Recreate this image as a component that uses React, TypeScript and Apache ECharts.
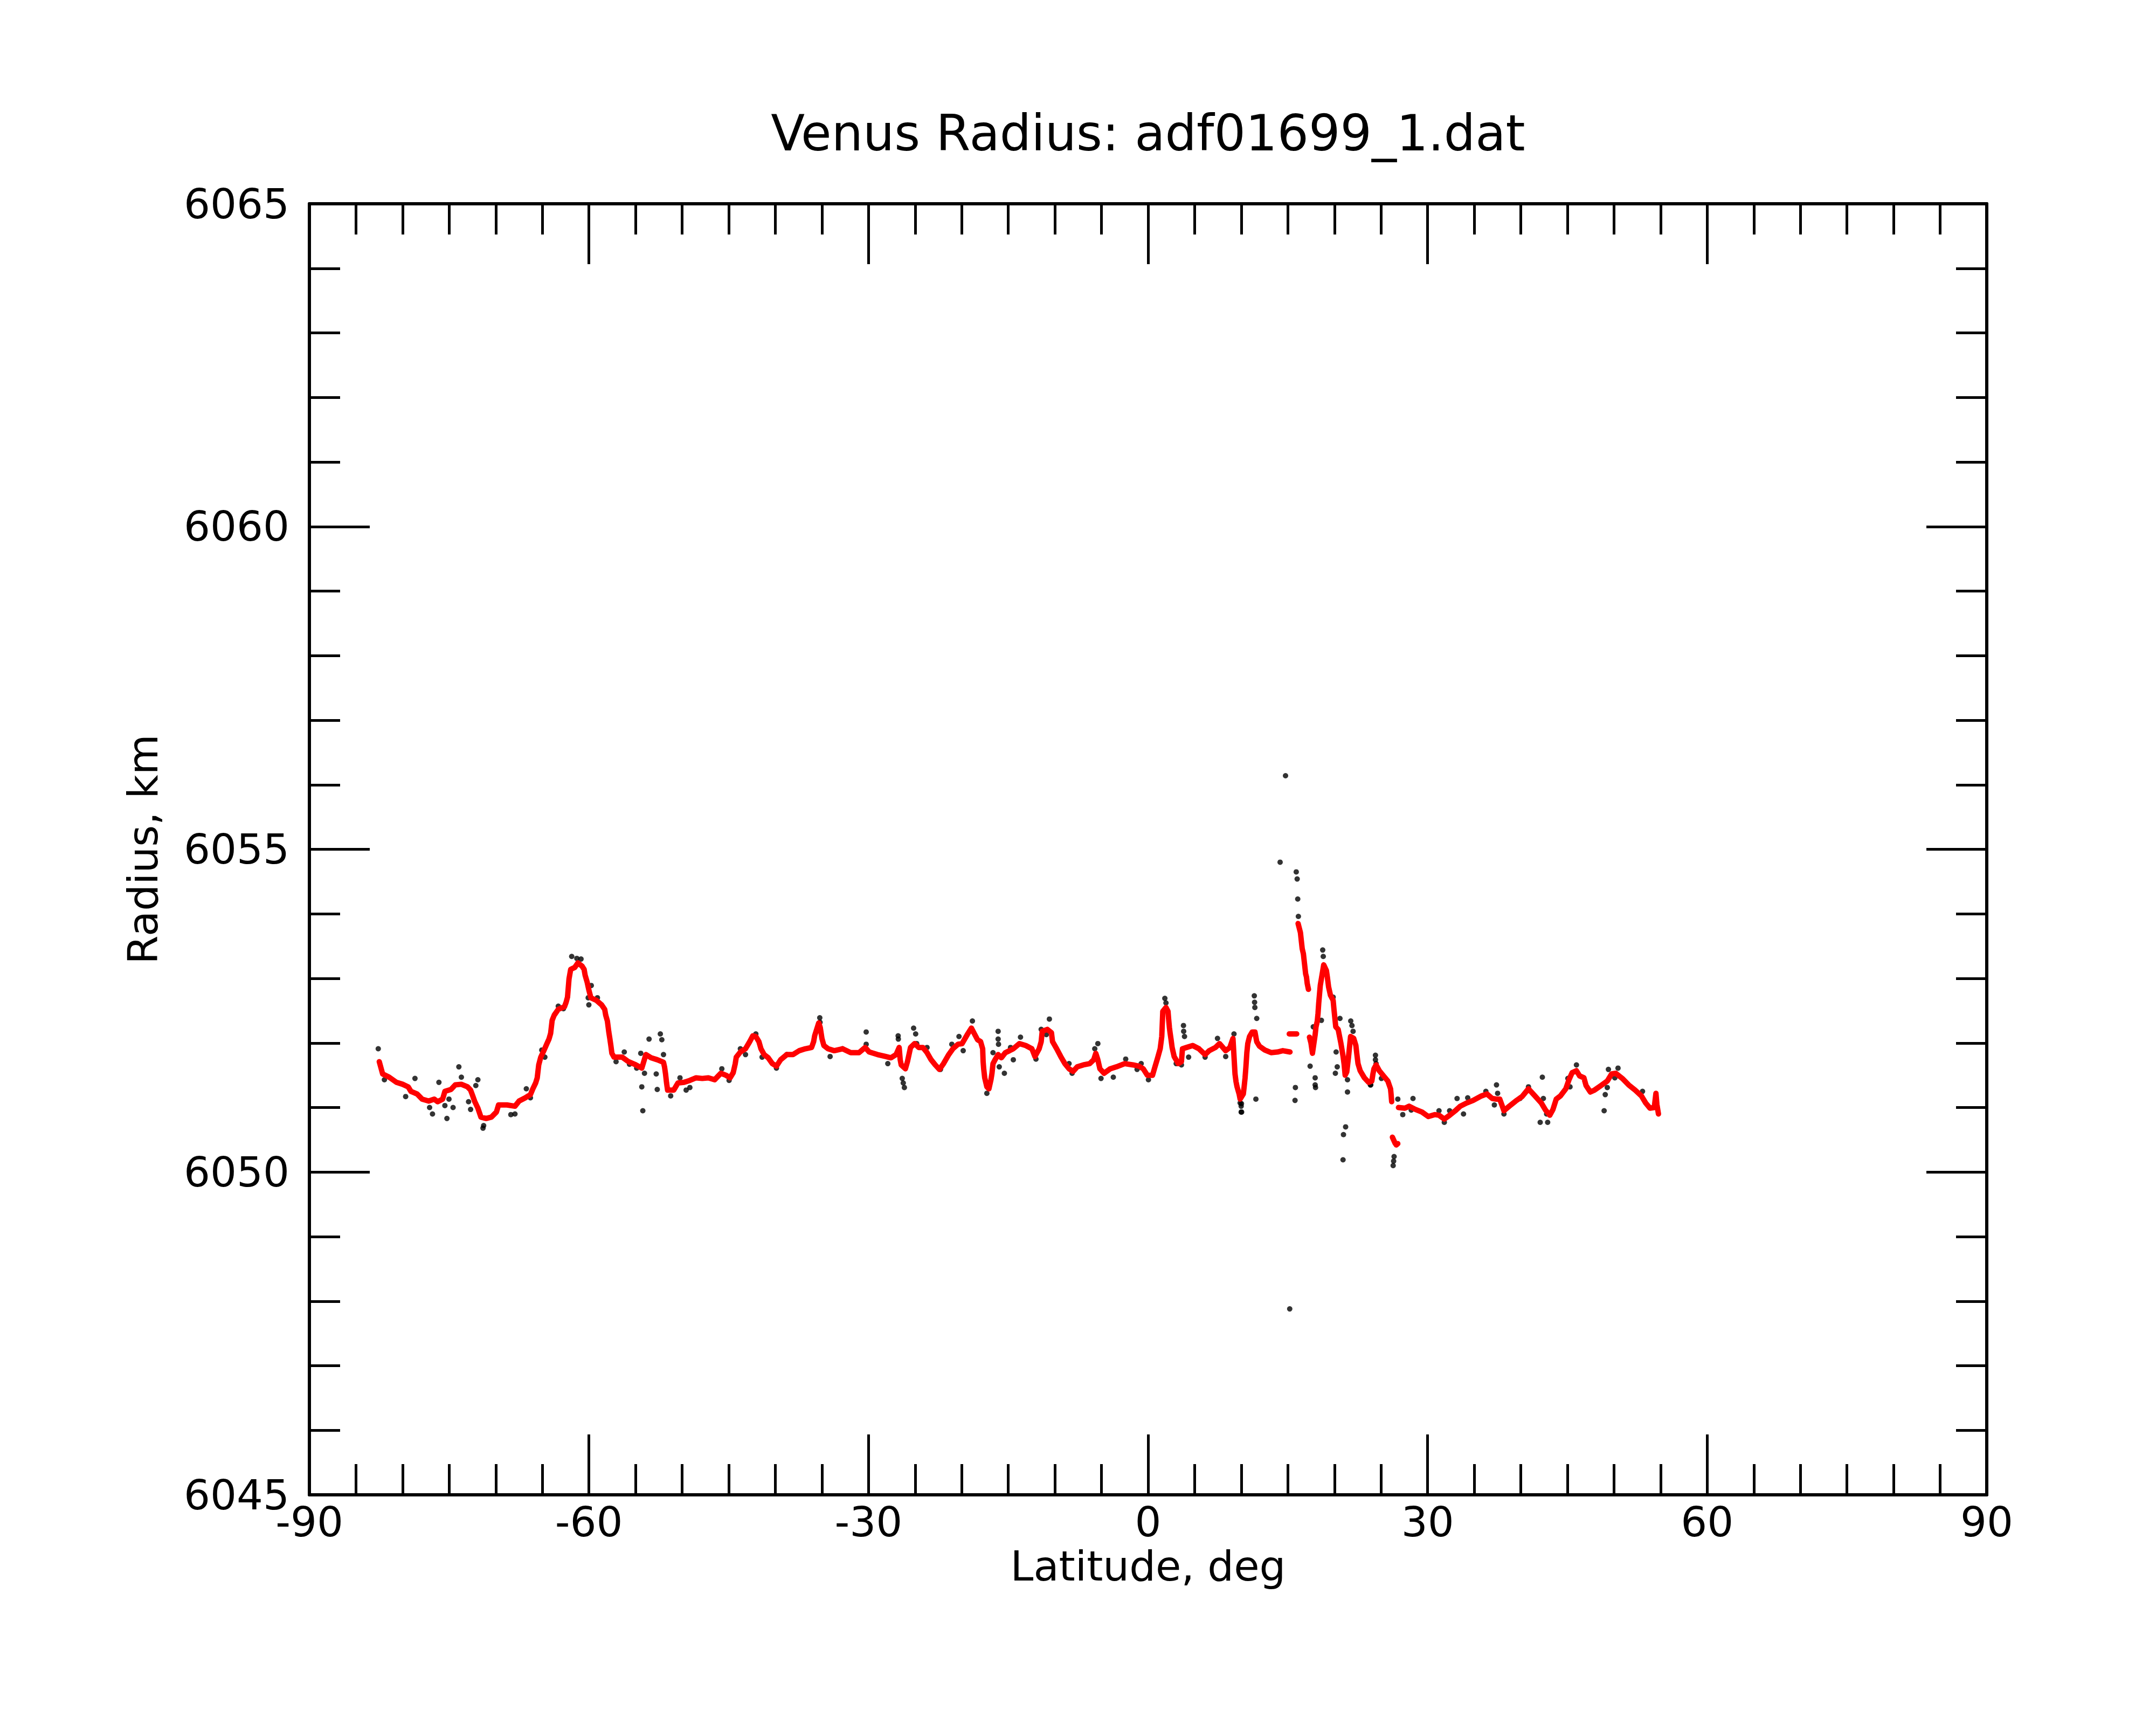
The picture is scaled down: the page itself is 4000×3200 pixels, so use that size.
import React, { useEffect, useRef } from "react";
import * as echarts from "echarts";

const TITLE = "Venus Radius: adf01699_1.dat";
const X_NAME = "Latitude, deg";
const Y_NAME = "Radius, km";
const X_MIN = -90, X_MAX = 90, X_STEP = 30;
const Y_MIN = 6045, Y_MAX = 6065, Y_STEP = 5;

// Smoothed profile (red), in contiguous runs
const redRunA: [number, number][] = [
  [-82.5, 6051.71], [-82.14, 6051.52], [-81.44, 6051.47], [-80.66, 6051.39], [-80.0, 6051.36],
  [-79.4, 6051.32], [-79.1, 6051.25], [-78.45, 6051.21], [-77.9, 6051.13], [-77.2, 6051.10],
  [-76.6, 6051.13], [-76.24, 6051.09], [-75.7, 6051.13], [-75.46, 6051.25], [-74.8, 6051.28],
  [-74.35, 6051.35], [-73.7, 6051.36], [-73.03, 6051.32], [-72.7, 6051.27], [-72.47, 6051.18],
  [-72.25, 6051.09], [-71.92, 6050.99], [-71.59, 6050.85], [-71.03, 6050.83], [-70.48, 6050.85],
  [-69.93, 6050.93], [-69.7, 6051.04], [-68.8, 6051.04], [-67.94, 6051.02], [-67.5, 6051.10],
  [-66.83, 6051.15], [-66.28, 6051.20], [-66.05, 6051.28], [-65.72, 6051.38], [-65.55, 6051.46],
  [-65.39, 6051.66], [-65.17, 6051.78], [-64.84, 6051.88], [-64.51, 6051.99], [-64.29, 6052.06],
  [-64.11, 6052.15], [-63.95, 6052.35], [-63.73, 6052.43], [-63.29, 6052.52], [-62.63, 6052.56],
  [-62.45, 6052.63], [-62.3, 6052.71], [-62.14, 6052.99], [-61.96, 6053.14], [-61.52, 6053.17],
  [-61.19, 6053.24], [-60.74, 6053.19], [-60.52, 6053.14], [-60.41, 6053.05], [-60.19, 6052.94],
  [-60.01, 6052.82], [-59.79, 6052.70], [-59.2, 6052.66], [-58.64, 6052.59], [-58.31, 6052.52],
  [-58.2, 6052.43], [-58.02, 6052.34], [-57.87, 6052.17], [-57.76, 6052.07], [-57.65, 6051.96],
  [-57.54, 6051.84], [-57.31, 6051.78], [-56.43, 6051.78], [-55.76, 6051.71], [-55.1, 6051.67],
  [-54.33, 6051.61], [-53.89, 6051.82], [-53.33, 6051.77], [-52.67, 6051.74], [-52.0, 6051.70],
  [-51.89, 6051.63], [-51.78, 6051.52], [-51.67, 6051.38], [-51.56, 6051.27], [-50.9, 6051.27],
  [-50.45, 6051.38], [-49.79, 6051.39], [-49.17, 6051.42], [-48.5, 6051.46], [-47.84, 6051.45],
  [-47.18, 6051.46], [-46.51, 6051.43], [-45.85, 6051.53], [-45.3, 6051.50], [-44.85, 6051.46],
  [-44.52, 6051.54], [-44.3, 6051.68], [-44.19, 6051.78], [-43.75, 6051.86], [-43.2, 6051.91],
  [-42.75, 6052.02], [-42.42, 6052.11], [-42.09, 6052.10], [-41.76, 6052.02], [-41.54, 6051.91],
  [-41.2, 6051.82], [-40.76, 6051.77], [-40.32, 6051.68], [-39.88, 6051.64], [-39.43, 6051.74],
  [-38.77, 6051.82], [-38.1, 6051.82], [-37.44, 6051.88], [-36.78, 6051.91], [-36.11, 6051.93],
  [-35.89, 6052.02], [-35.78, 6052.11], [-35.56, 6052.21], [-35.34, 6052.31], [-35.18, 6052.24],
  [-35.0, 6052.07], [-34.79, 6051.96], [-34.34, 6051.91], [-33.68, 6051.88], [-32.79, 6051.91],
  [-31.91, 6051.85], [-31.02, 6051.85], [-30.36, 6051.93], [-29.92, 6051.86], [-29.03, 6051.82],
  [-28.15, 6051.79], [-27.59, 6051.77], [-27.04, 6051.82], [-26.71, 6051.93], [-26.6, 6051.74],
  [-26.49, 6051.66], [-26.04, 6051.60], [-25.82, 6051.71], [-25.49, 6051.93], [-25.05, 6051.99],
  [-24.61, 6051.93], [-24.16, 6051.93], [-23.72, 6051.85], [-23.28, 6051.74], [-22.84, 6051.66],
  [-22.39, 6051.59], [-21.95, 6051.68], [-21.39, 6051.82], [-20.95, 6051.91], [-20.4, 6051.98],
  [-19.96, 6051.99], [-19.4, 6052.13], [-18.96, 6052.23], [-18.63, 6052.14], [-18.3, 6052.05],
  [-17.97, 6052.02], [-17.75, 6051.91], [-17.7, 6051.71], [-17.64, 6051.60], [-17.53, 6051.46],
  [-17.3, 6051.32], [-17.08, 6051.29], [-16.86, 6051.43], [-16.75, 6051.53], [-16.64, 6051.68],
  [-16.42, 6051.74], [-16.09, 6051.82], [-15.75, 6051.77], [-15.31, 6051.85], [-14.87, 6051.88],
  [-14.46, 6051.91], [-13.8, 6051.99], [-13.13, 6051.96], [-12.47, 6051.91], [-12.14, 6051.79],
  [-11.69, 6051.91], [-11.47, 6052.02], [-11.36, 6052.18], [-10.81, 6052.21], [-10.37, 6052.16],
  [-10.25, 6052.02], [-9.81, 6051.91], [-9.37, 6051.79], [-8.93, 6051.68], [-8.48, 6051.60],
  [-8.04, 6051.56], [-7.6, 6051.63], [-6.94, 6051.66], [-6.27, 6051.68], [-5.83, 6051.74],
  [-5.61, 6051.84], [-5.39, 6051.74], [-5.17, 6051.60], [-4.72, 6051.53], [-4.06, 6051.60],
  [-3.4, 6051.63], [-2.51, 6051.68], [-1.62, 6051.66], [-0.96, 6051.64], [-0.52, 6051.60],
  [-0.08, 6051.50], [0.48, 6051.50], [0.7, 6051.61], [1.03, 6051.77], [1.3, 6051.91],
  [1.47, 6052.10], [1.58, 6052.49], [1.92, 6052.55], [2.14, 6052.49], [2.2, 6052.38],
  [2.29, 6052.24], [2.36, 6052.16], [2.47, 6052.05], [2.58, 6051.93], [2.8, 6051.79],
  [3.24, 6051.68], [3.58, 6051.71], [3.69, 6051.91], [4.13, 6051.93], [4.79, 6051.96],
  [5.46, 6051.91], [6.12, 6051.82], [6.56, 6051.88], [7.23, 6051.93], [7.67, 6051.99],
  [8.33, 6051.88], [8.78, 6051.93], [9.11, 6052.07], [9.33, 6051.52], [9.44, 6051.40],
  [9.55, 6051.32], [9.77, 6051.21], [9.88, 6051.13], [10.22, 6051.21], [10.31, 6051.32],
  [10.41, 6051.46], [10.5, 6051.63], [10.6, 6051.85], [10.7, 6051.99], [10.89, 6052.10],
  [11.18, 6052.17], [11.47, 6052.17], [11.66, 6052.02], [11.95, 6051.95], [12.53, 6051.89],
  [13.2, 6051.85], [13.88, 6051.86], [14.46, 6051.88], [15.23, 6051.86],
];
const redRunB: [number, number][] = [[15.15, 6052.14], [15.55, 6052.14], [15.95, 6052.14]];
const redRunC: [number, number][] = [
  [16.1, 6053.85], [16.35, 6053.71], [16.44, 6053.59], [16.54, 6053.46], [16.67, 6053.38],
  [16.77, 6053.25], [16.91, 6053.07], [17.0, 6053.02], [17.08, 6052.92], [17.21, 6052.83],
];
const redRunD: [number, number][] = [
  [17.32, 6052.09], [17.48, 6052.0], [17.64, 6051.84], [17.93, 6052.13], [18.02, 6052.25],
  [18.16, 6052.34], [18.24, 6052.46], [18.31, 6052.61], [18.48, 6052.89], [18.85, 6053.21],
  [19.14, 6053.12], [19.24, 6053.02], [19.37, 6052.87], [19.57, 6052.74], [19.86, 6052.66],
  [19.95, 6052.52], [20.14, 6052.25], [20.4, 6052.21], [20.7, 6051.99], [20.93, 6051.79],
  [21.04, 6051.67], [21.15, 6051.50], [21.32, 6051.55], [21.5, 6051.77], [21.73, 6052.10],
  [22.07, 6052.07], [22.3, 6051.96], [22.41, 6051.82], [22.53, 6051.68], [22.76, 6051.57],
  [23.21, 6051.46], [23.67, 6051.39], [24.01, 6051.41], [24.13, 6051.52], [24.24, 6051.60],
  [24.47, 6051.66], [24.81, 6051.57], [25.27, 6051.49], [25.73, 6051.41], [26.02, 6051.29],
  [26.08, 6051.20], [26.14, 6051.09],
];
const redRunE: [number, number][] = [[26.22, 6050.54], [26.5, 6050.45], [26.64, 6050.42], [26.8, 6050.44]];
const redRunF: [number, number][] = [
  [26.87, 6051.0], [27.56, 6050.99], [28.02, 6051.02], [28.7, 6050.97], [29.39, 6050.93],
  [30.07, 6050.86], [30.76, 6050.89], [31.22, 6050.88], [31.79, 6050.82], [32.36, 6050.88],
  [33.05, 6050.96], [33.5, 6051.02], [34.19, 6051.07], [34.88, 6051.11], [35.79, 6051.18],
  [36.36, 6051.21], [36.93, 6051.14], [37.39, 6051.13], [37.74, 6051.13], [38.19, 6050.95],
  [38.76, 6051.02], [39.45, 6051.10], [40.14, 6051.17], [40.82, 6051.29], [41.51, 6051.18],
  [42.2, 6051.07], [42.65, 6050.96], [43.11, 6050.88], [43.45, 6050.97], [43.8, 6051.13],
  [44.25, 6051.18], [44.83, 6051.29], [45.17, 6051.43], [45.51, 6051.54], [45.97, 6051.57],
  [46.31, 6051.49], [46.77, 6051.46], [47.0, 6051.34], [47.46, 6051.24], [47.91, 6051.27],
  [48.6, 6051.34], [49.28, 6051.41], [49.74, 6051.52], [50.2, 6051.53], [50.89, 6051.45],
  [51.57, 6051.35], [52.26, 6051.27], [52.94, 6051.18], [53.4, 6051.07], [53.86, 6050.99],
  [54.32, 6051.0], [54.5, 6051.22], [54.6, 6051.05], [54.77, 6050.90],
];
const redRuns = [redRunA, redRunB, redRunC, redRunD, redRunE, redRunF];

// Raw measurements (black) that stand out from the smoothed profile
const blackSouth: [number, number][] = [
  [-82.61, 6051.91], [-81.95, 6051.43], [-79.67, 6051.17], [-78.67, 6051.45], [-77.1, 6051.0],
  [-76.79, 6050.90], [-76.1, 6051.39], [-75.46, 6051.03], [-75.24, 6050.83], [-75.02, 6051.13],
  [-74.58, 6051.0], [-73.96, 6051.63], [-73.69, 6051.47], [-72.92, 6051.09], [-72.7, 6050.97],
  [-72.14, 6051.34], [-71.92, 6051.43], [-71.37, 6050.68], [-71.3, 6050.72], [-68.38, 6050.89],
  [-67.94, 6050.90], [-66.72, 6051.29], [-66.28, 6051.15], [-65.06, 6051.89], [-64.73, 6051.78],
  [-63.29, 6052.57], [-62.74, 6052.53], [-61.85, 6053.34], [-61.3, 6053.31], [-60.85, 6053.30],
  [-59.75, 6052.89], [-60.08, 6052.70], [-60.01, 6052.59], [-59.09, 6052.70], [-57.09, 6051.71],
  [-56.21, 6051.86], [-55.65, 6051.67], [-54.88, 6051.61], [-54.44, 6051.84], [-54.04, 6051.53],
  [-54.33, 6051.32], [-54.22, 6050.95], [-53.55, 6052.06], [-52.34, 6052.14], [-52.18, 6052.05],
  [-52.0, 6051.82], [-52.78, 6051.52], [-52.67, 6051.28], [-51.23, 6051.18], [-50.23, 6051.46],
  [-49.57, 6051.27], [-49.17, 6051.31], [-45.74, 6051.60], [-44.96, 6051.42], [-43.75, 6051.91],
  [-43.2, 6051.82], [-42.09, 6052.14], [-41.42, 6051.78], [-39.88, 6051.61], [-38.77, 6051.82],
  [-35.23, 6052.39], [-35.2, 6052.32], [-34.12, 6051.79], [-32.79, 6051.91], [-30.25, 6052.17],
  [-30.25, 6051.98], [-27.93, 6051.68], [-26.82, 6052.11], [-26.8, 6052.06], [-26.38, 6051.45],
  [-26.27, 6051.38], [-26.15, 6051.31], [-25.16, 6052.23], [-24.94, 6052.14], [-24.83, 6051.99],
  [-23.72, 6051.93], [-22.28, 6051.59], [-21.06, 6051.98], [-20.29, 6052.10], [-19.84, 6051.88],
  [-18.85, 6052.34], [-16.09, 6052.18], [-16.09, 6052.06], [-16.05, 6051.98], [-16.64, 6051.85],
  [-15.97, 6051.63], [-15.42, 6051.53], [-17.3, 6051.22], [-14.76, 6051.93], [-14.46, 6051.74],
  [-13.69, 6052.09], [-12.03, 6051.75], [-10.59, 6052.37], [-10.92, 6052.13], [-11.47, 6052.21],
  [-8.48, 6051.68], [-8.15, 6051.53], [-5.39, 6051.99], [-5.72, 6051.91], [-5.05, 6051.45],
  [-3.73, 6051.47], [-2.4, 6051.75], [-0.74, 6051.68], [-1.18, 6051.59], [0.04, 6051.43],
];
const blackNorth: [number, number][] = [
  [1.8, 6052.69], [1.92, 6052.62], [3.8, 6052.27], [3.82, 6052.18], [3.91, 6052.10],
  [3.02, 6051.68], [3.58, 6051.66], [4.35, 6051.78], [6.12, 6051.78], [7.45, 6052.07],
  [9.22, 6052.14], [8.33, 6051.79], [9.99, 6051.02], [9.99, 6050.93], [9.88, 6051.07],
  [10.02, 6051.06], [10.04, 6050.93], [11.4, 6052.73], [11.43, 6052.63], [11.46, 6052.55],
  [11.66, 6052.38], [11.57, 6051.13], [14.17, 6054.80], [14.75, 6056.14], [15.2, 6047.88],
  [15.77, 6051.11], [15.81, 6051.31], [15.9, 6054.65], [16.0, 6054.54], [16.06, 6054.23],
  [16.13, 6053.96], [17.39, 6051.64], [17.93, 6051.46], [17.93, 6051.35], [17.97, 6051.31],
  [17.73, 6052.25], [18.6, 6052.35], [18.74, 6053.44], [18.8, 6053.34], [19.86, 6052.71],
  [20.1, 6051.53], [20.18, 6051.86], [20.3, 6051.63], [20.59, 6052.38], [21.4, 6051.43],
  [21.4, 6051.24], [21.2, 6050.70], [20.97, 6050.58], [20.92, 6050.19], [21.75, 6052.34],
  [21.88, 6052.27], [22.0, 6052.18], [23.9, 6051.35], [24.4, 6051.81], [24.4, 6051.74],
  [26.4, 6050.24], [26.35, 6050.17], [26.3, 6050.10], [26.8, 6051.13], [24.47, 6051.68],
  [25.04, 6051.45], [23.85, 6051.35], [27.33, 6050.89], [28.43, 6051.14], [28.24, 6050.96],
  [31.22, 6050.95], [31.79, 6050.77], [32.36, 6050.95], [33.16, 6051.14], [33.85, 6050.90],
  [34.3, 6051.15], [36.25, 6051.25], [37.39, 6051.35], [37.51, 6051.22], [37.16, 6051.04],
  [38.19, 6050.90], [39.91, 6051.14], [40.82, 6051.32], [42.31, 6051.47], [42.08, 6050.77],
  [42.88, 6050.77], [42.42, 6051.14], [42.77, 6050.90], [45.28, 6051.32], [45.05, 6051.45],
  [45.97, 6051.66], [48.94, 6050.95], [49.06, 6051.20], [49.4, 6051.59], [49.28, 6051.31],
  [50.43, 6051.61], [50.09, 6051.46], [53.06, 6051.25], [54.43, 6051.09],
];

const FONT = "DejaVu Sans";

function axisParts(minorSplit: number) {
  return {
    axisLine: { show: true, onZero: false, lineStyle: { color: "#000", width: 6 } },
    axisTick: { show: true, inside: true, length: 112, lineStyle: { color: "#000", width: 5 } },
    minorTick: { show: true, splitNumber: minorSplit, length: 57, lineStyle: { color: "#000", width: 5 } },
    splitLine: { show: false },
    minorSplitLine: { show: false },
  };
}

export default function App() {
  const ref = useRef<HTMLDivElement>(null);
  useEffect(() => {
    if (!ref.current) return;
    const chart = echarts.init(ref.current, null, { renderer: "svg" });
    const labelStyle = { show: true, fontSize: 77, color: "#000", fontFamily: FONT };
    const option: any = {
      animation: false,
      backgroundColor: "#ffffff",
      graphic: [
        {
          type: "text",
          x: 2130,
          y: 247,
          style: {
            text: TITLE,
            fontSize: 92,
            fontFamily: FONT,
            fill: "#000",
            textAlign: "center",
            textVerticalAlign: "middle",
          },
        },
      ],
      grid: { left: 574, right: 314, top: 378, bottom: 427, containLabel: false },
      xAxis: [
        {
          type: "value",
          position: "bottom",
          min: X_MIN,
          max: X_MAX,
          interval: X_STEP,
          ...axisParts(6),
          axisLabel: { ...labelStyle, margin: 12, formatter: (v: number) => String(v) },
          name: X_NAME,
          nameLocation: "middle",
          nameGap: 92,
          nameTextStyle: { fontSize: 77, color: "#000", fontFamily: FONT },
        },
        {
          type: "value",
          position: "top",
          min: X_MIN,
          max: X_MAX,
          interval: X_STEP,
          ...axisParts(6),
          axisLabel: { show: false },
        },
      ],
      yAxis: [
        {
          type: "value",
          position: "left",
          min: Y_MIN,
          max: Y_MAX,
          interval: Y_STEP,
          ...axisParts(5),
          axisLabel: { ...labelStyle, margin: 37, formatter: (v: number) => String(v) },
          name: Y_NAME,
          nameLocation: "middle",
          nameGap: 270,
          nameTextStyle: { fontSize: 77, color: "#000", fontFamily: FONT },
        },
        {
          type: "value",
          position: "right",
          min: Y_MIN,
          max: Y_MAX,
          interval: Y_STEP,
          ...axisParts(5),
          axisLabel: { show: false },
        },
      ],
      series: [
        {
          type: "scatter",
          name: "raw",
          xAxisIndex: 0,
          yAxisIndex: 0,
          data: [...blackSouth, ...blackNorth],
          symbol: "circle",
          symbolSize: 10,
          itemStyle: { color: "#000" },
          z: 2,
        },
        ...redRuns.map((run, i) => ({
          type: "line",
          name: "smoothed" + i,
          xAxisIndex: 0,
          yAxisIndex: 0,
          data: run,
          showSymbol: false,
          symbol: "none",
          lineStyle: { color: "#ff0000", width: 10, cap: "round", join: "round" },
          z: 3,
        })),
      ],
    };
    chart.setOption(option);
    return () => chart.dispose();
  }, []);
  return (
    <div
      ref={ref}
      style={{ position: "absolute", left: 0, top: 0, width: 4000, height: 3200, background: "#fff" }}
    />
  );
}
